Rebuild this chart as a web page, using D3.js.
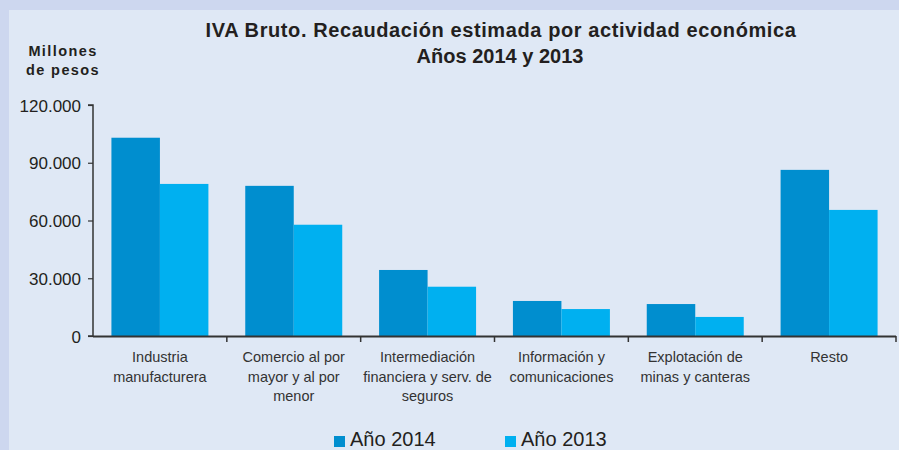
<!DOCTYPE html>
<html>
<head>
<meta charset="utf-8">
<script src="https://cdn.jsdelivr.net/npm/d3@7/dist/d3.min.js"></script>
<style>
  html, body { margin: 0; padding: 0; background: #cdd7ef; }
  svg { display: block; font-family: "Liberation Sans", Arial, sans-serif; }
</style>
</head>
<body>
<svg id="chart" width="899" height="450"></svg>
<script>
const categories = [
  ["Industria", "manufacturera"],
  ["Comercio al por", "mayor y al por", "menor"],
  ["Intermediación", "financiera y serv. de", "seguros"],
  ["Información y", "comunicaciones"],
  ["Explotación de", "minas  y canteras"],
  ["Resto"]
];
const seriesNames = ["Año 2014", "Año 2013"];
const values2014 = [103000, 78000, 34300, 18200, 16600, 86300];
const values2013 = [79000, 57800, 25600, 14000, 9900, 65500];
const yTicks = [0, 30000, 60000, 90000, 120000];
const colors = ["#008ecf", "#00b0f0"];

const FONT = "'Liberation Sans', Arial, sans-serif";
const svg = d3.select("#chart");
const W = 899, H = 450;

// panel
svg.append("rect").attr("x", 0).attr("y", 0).attr("width", W).attr("height", H).attr("fill", "#cdd7ef");
svg.append("rect").attr("x", 9).attr("y", 10).attr("width", W - 9).attr("height", H - 10).attr("fill", "#dfe8f5");

const x0 = d3.scaleBand().domain(d3.range(categories.length)).range([93, 896]).paddingInner(0).paddingOuter(0);
const x1 = d3.scaleBand().domain([0, 1]).range([0, x0.bandwidth()]).paddingOuter(0.38).paddingInner(0);
const y = d3.scaleLinear().domain([0, 120000]).range([336, 105]);

// title
const title = svg.append("text").attr("text-anchor", "middle").attr("font-weight", "bold")
  .attr("font-size", 20).attr("fill", "#231f20").attr("font-family", FONT);
title.append("tspan").attr("x", 501).attr("y", 37).attr("letter-spacing", 0.6)
  .text("IVA Bruto. Recaudación estimada por actividad económica");
title.append("tspan").attr("x", 500).attr("y", 63).attr("letter-spacing", 0)
  .text("Años 2014 y 2013");

// y label
const yl = svg.append("text").attr("text-anchor", "middle").attr("font-weight", "bold")
  .attr("font-size", 14.5).attr("fill", "#231f20").attr("letter-spacing", 1.4).attr("font-family", FONT);
yl.append("tspan").attr("x", 63).attr("y", 56).text("Millones");
yl.append("tspan").attr("x", 63).attr("y", 75).text("de pesos");

// bars
const data = categories.map((c, i) => ({ i, vals: [values2014[i], values2013[i]] }));
const g = svg.append("g");
g.selectAll("g.grp").data(data).join("g").attr("class", "grp")
  .attr("transform", d => `translate(${x0(d.i)},0)`)
  .selectAll("rect").data(d => d.vals.map((v, k) => ({ v, k })))
  .join("rect")
  .attr("x", d => x1(d.k))
  .attr("width", x1.bandwidth())
  .attr("y", d => y(d.v))
  .attr("height", d => y(0) - y(d.v))
  .attr("fill", d => colors[d.k]);

// y axis
const yAxis = d3.axisLeft(y).tickValues(yTicks).tickSize(5).tickPadding(7)
  .tickFormat(d => d === 0 ? "0" : d3.format(",")(d).replace(/,/g, "."));
const ya = svg.append("g").attr("transform", "translate(93,0)").call(yAxis);
ya.attr("font-family", FONT);
ya.select(".domain").attr("stroke", "#333").attr("stroke-width", 1.5).attr("d", "M-5,105H0V336H-5");
ya.selectAll(".tick line").attr("stroke", "#333").attr("stroke-width", 1.2);
ya.selectAll(".tick text").attr("font-size", 17).attr("fill", "#231f20").attr("dy", "0.36em");

// x axis
const xa = svg.append("g");
xa.append("line").attr("x1", 93).attr("x2", 896).attr("y1", 336.5).attr("y2", 336.5)
  .attr("stroke", "#333").attr("stroke-width", 2);
const bounds = d3.range(1, categories.length + 1).map(i => x0(i - 1) + x0.bandwidth());
xa.selectAll("line.tk").data(bounds).join("line").attr("class", "tk")
  .attr("x1", d => d).attr("x2", d => d).attr("y1", 336).attr("y2", 342)
  .attr("stroke", "#333").attr("stroke-width", 1.5);

// category labels
categories.forEach((lines, i) => {
  const t = svg.append("text").attr("text-anchor", "middle").attr("font-size", 14.5)
    .attr("fill", "#333").attr("font-family", FONT);
  const cx = x0(i) + x0.bandwidth() / 2;
  lines.forEach((ln, j) => {
    t.append("tspan").attr("x", cx).attr("y", 362 + j * 19.5).text(ln);
  });
});

// legend
const legendX = [334, 505];
seriesNames.forEach((name, k) => {
  svg.append("rect").attr("x", legendX[k]).attr("y", 436).attr("width", 11).attr("height", 11).attr("fill", colors[k]);
  svg.append("text").attr("x", legendX[k] + 16).attr("y", 446).attr("font-size", 20)
    .attr("fill", "#231f20").attr("font-family", FONT).text(name);
});
</script>
</body>
</html>
